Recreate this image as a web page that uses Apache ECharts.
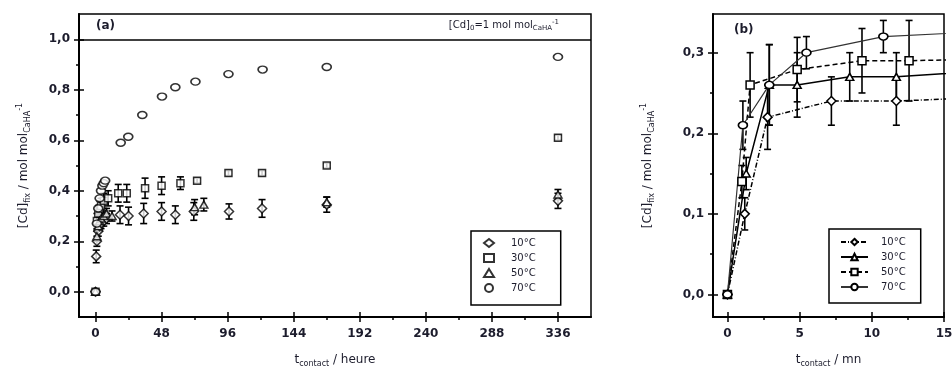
<!DOCTYPE html>
<html>
<head>
<meta charset="utf-8">
<script src="https://cdn.jsdelivr.net/npm/echarts@6/dist/echarts.min.js"></script>
<style>
html,body{margin:0;padding:0;background:#fff;}
#c{width:952px;height:367px;}
</style>
</head>
<body>
<div id="c"></div>
<script>
// ---------- Panel (a): time in hours ----------
const aT10 = [0, 0.5, 1, 2, 3, 4, 6, 8, 17.8, 24, 35, 48, 58, 71.4, 97, 121, 168, 336];
const aV10 = [0.00, 0.14, 0.20, 0.24, 0.26, 0.27, 0.28, 0.29, 0.305, 0.30, 0.31, 0.318, 0.305, 0.318, 0.318, 0.33, 0.345, 0.36];
const aE10 = [0, 0.025, 0.02, 0.02, 0.02, 0.02, 0.02, 0.02, 0.035, 0.035, 0.04, 0.035, 0.035, 0.035, 0.03, 0.035, 0.03, 0.03];

const aT30 = [0, 1, 2, 3, 4, 6, 9.2, 16.5, 22.7, 36, 48, 61.7, 73.8, 96.6, 121, 168, 336];
const aV30 = [0.00, 0.28, 0.31, 0.33, 0.34, 0.36, 0.37, 0.39, 0.39, 0.41, 0.42, 0.43, 0.44, 0.47, 0.47, 0.50, 0.61];
const aE30 = [0, 0.03, 0.03, 0.03, 0.03, 0.03, 0.03, 0.035, 0.035, 0.04, 0.035, 0.025, 0.01, 0.01, 0.01, 0.01, 0.01];

const aT50 = [0, 1, 2, 3, 4, 6, 8, 12, 72, 78.7, 168, 336];
const aV50 = [0.00, 0.22, 0.26, 0.28, 0.29, 0.30, 0.31, 0.30, 0.335, 0.345, 0.355, 0.385];
const aE50 = [0, 0.02, 0.02, 0.02, 0.02, 0.02, 0.02, 0.02, 0.03, 0.025, 0.02, 0.02];

const aT70 = [0, 1, 2, 3, 4, 5, 6, 7, 18.3, 23.8, 34, 48.3, 58, 72.6, 96.6, 121.4, 168, 336];
const aV70 = [0.00, 0.27, 0.33, 0.37, 0.40, 0.42, 0.43, 0.44, 0.59, 0.614, 0.70, 0.773, 0.81, 0.832, 0.862, 0.88, 0.89, 0.93];

const aXMajor = [0, 48, 96, 144, 192, 240, 288, 336];
const aXMinor = [24, 72, 120, 168, 216, 264, 312];
const aYMajor = [0, 0.2, 0.4, 0.6, 0.8, 1.0];
const aYMinor = [0.1, 0.3, 0.5, 0.7, 0.9];
const aLimit = 1.0;

// ---------- Panel (b): time in minutes ----------
const bT10 = [0, 1.2, 2.78, 7.2, 11.7, 20];
const bV10 = [0.00, 0.10, 0.22, 0.24, 0.24, 0.246];
const bE10 = [0, 0.02, 0.04, 0.03, 0.03, 0];

const bT30 = [0, 1.3, 2.9, 4.83, 8.47, 11.7, 20];
const bV30 = [0.00, 0.15, 0.26, 0.26, 0.27, 0.27, 0.28];
const bE30 = [0, 0.02, 0.05, 0.04, 0.03, 0.03, 0];

const bT50 = [0, 1.0, 1.57, 4.83, 9.32, 12.58, 20];
const bV50 = [0.00, 0.14, 0.26, 0.279, 0.29, 0.29, 0.293];
const bE50 = [0, 0.02, 0.04, 0.04, 0.04, 0.05, 0];

const bT70 = [0, 1.07, 2.9, 5.47, 10.8, 20];
const bV70 = [0.00, 0.21, 0.26, 0.30, 0.32, 0.328];
const bE70 = [0, 0.03, 0.05, 0.02, 0.02, 0];

const bXMajor = [0, 5, 10, 15];
const bXMinor = [2.5, 7.5, 12.5];
const bYMajor = [0, 0.1, 0.2, 0.3];
const bYMinor = [0.05, 0.15, 0.25];

const legendNames = {a10: '10°C', a30: '30°C', a50: '50°C', a70: '70°C',
                     b10: '10°C', b30: '30°C', b50: '50°C', b70: '70°C'};

// ---------- build ----------
const TXT = '#1c1c2c';
const FONT = 'DejaVu Sans';
const zip2 = (t, v) => t.map((x, i) => [x, v[i]]);
const zip3 = (t, v, e) => t.map((x, i) => [x, v[i], e[i]]);
const fmtY = v => v.toFixed(1).replace('.', ',');
const fmtX = v => String(v);

const richName = {
  n: {fontFamily: FONT, fontSize: 12, color: TXT, lineHeight: 16, verticalAlign: 'middle'},
  s: {fontFamily: FONT, fontSize: 8, color: TXT, lineHeight: 8, verticalAlign: 'bottom'},
  p: {fontFamily: FONT, fontSize: 8, color: TXT, lineHeight: 8, verticalAlign: 'top'}
};

function gridRect(l, t, r, b, show) {
  return {left: l, top: t, right: r, bottom: b, show: show, borderColor: '#000', borderWidth: 1.5,
          backgroundColor: 'transparent', containLabel: false, outerBoundsMode: 'none'};
}
const gA = [79, 14, 361, 50];
const gB = [713, 14, 8, 50];
const grids = [
  gridRect(...gA, true), gridRect(...gA, false), gridRect(...gA, false),
  gridRect(...gB, true), gridRect(...gB, false), gridRect(...gB, false)
];

function axesSet(gi, min, max, major, minor, fmt, labelMargin, nameCfg) {
  const base = {type: 'value', min: min, max: max, splitLine: {show: false}, silent: true};
  const tickStyle = {color: '#000', width: 1.5};
  return [
    Object.assign({}, base, {
      gridIndex: gi,
      axisLine: {show: true, onZero: false, lineStyle: {color: '#000', width: 2}},
      axisTick: {show: true, customValues: major, length: 5, lineStyle: tickStyle},
      axisLabel: {show: true, customValues: major, formatter: fmt, margin: labelMargin,
                  color: TXT, fontFamily: FONT, fontSize: 12, fontWeight: 'bold'}
    }, nameCfg),
    Object.assign({}, base, {
      gridIndex: gi + 1,
      axisLine: {show: false, onZero: false},
      axisTick: {show: true, inside: true, customValues: major, length: 5, lineStyle: tickStyle},
      axisLabel: {show: false}
    }),
    Object.assign({}, base, {
      gridIndex: gi + 2,
      axisLine: {show: false, onZero: false},
      axisTick: {show: true, customValues: minor, length: 3, lineStyle: tickStyle},
      axisLabel: {show: false}
    })
  ];
}

const yNameA = '{n|[Cd]}{s|fix}{n| / mol mol}{s|CaHA}{p|-1}';
const xAxes = [].concat(
  axesSet(0, -12, 360, aXMajor, aXMinor, fmtX, 11, {
    name: '{n|t}{s|contact}{n| / heure}', nameLocation: 'middle', nameGap: 35,
    nameTextStyle: {rich: richName}
  }),
  axesSet(3, -1, 15, bXMajor, bXMinor, fmtX, 11, {
    name: '{n|t}{s|contact}{n| / mn}', nameLocation: 'middle', nameGap: 35,
    nameTextStyle: {rich: richName}
  })
);
const yAxes = [].concat(
  axesSet(0, -0.1, 1.1, aYMajor, aYMinor, fmtY, 9, {
    name: yNameA, nameLocation: 'middle', nameGap: 47, nameRotate: 90,
    nameTextStyle: {rich: richName}
  }),
  axesSet(3, -0.028, 0.348, bYMajor, bYMinor, fmtY, 9, {
    name: yNameA, nameLocation: 'middle', nameGap: 57, nameRotate: 90,
    nameTextStyle: {rich: richName}
  })
);

function errRender(params, api) {
  const x = api.value(0), y = api.value(1), e = api.value(2);
  if (!(e > 0)) return null;
  const top = api.coord([x, y + e]);
  const bot = api.coord([x, y - e]);
  const w = 3.5;
  const st = {stroke: '#000', lineWidth: 1.6};
  return {type: 'group', children: [
    {type: 'line', shape: {x1: top[0], y1: top[1], x2: bot[0], y2: bot[1]}, style: st},
    {type: 'line', shape: {x1: top[0] - w, y1: top[1], x2: top[0] + w, y2: top[1]}, style: st},
    {type: 'line', shape: {x1: bot[0] - w, y1: bot[1], x2: bot[0] + w, y2: bot[1]}, style: st}
  ]};
}
function errSeries(xi, yi, data) {
  return {type: 'custom', xAxisIndex: xi, yAxisIndex: yi, renderItem: errRender, clip: true,
          data: data, encode: {x: 0, y: 1}, z: 2, silent: true};
}
const ptStyle = {color: '#fff', borderColor: '#000', borderWidth: 1.5};
function scat(name, data, symbol, size) {
  return {type: 'scatter', name: name, xAxisIndex: 0, yAxisIndex: 0, data: data,
          symbol: symbol, symbolSize: size, itemStyle: ptStyle, z: 4, silent: true};
}
function lineS(name, data, symbol, size, dash, width, color) {
  return {type: 'line', name: name, xAxisIndex: 3, yAxisIndex: 3, data: data, clip: true,
          symbol: symbol, symbolSize: size, showAllSymbol: true,
          itemStyle: ptStyle,
          lineStyle: {color: color, width: width, type: dash}, z: 4, silent: true, animation: false};
}

const series = [
  errSeries(0, 0, zip3(aT10, aV10, aE10)),
  errSeries(0, 0, zip3(aT30, aV30, aE30)),
  errSeries(0, 0, zip3(aT50, aV50, aE50)),
  scat('a10', zip2(aT10, aV10), 'diamond', [9, 9]),
  scat('a30', zip2(aT30, aV30), 'rect', [7, 7]),
  scat('a50', zip2(aT50, aV50), 'triangle', [8, 7]),
  Object.assign(scat('a70', zip2(aT70, aV70), 'circle', [9, 7]), {
    markLine: {silent: true, symbol: 'none', label: {show: false}, animation: false,
               lineStyle: {color: '#000', width: 1.5, type: 'solid'},
               data: [{yAxis: aLimit}]}
  }),
  errSeries(3, 3, zip3(bT10, bV10, bE10)),
  errSeries(3, 3, zip3(bT30, bV30, bE30)),
  errSeries(3, 3, zip3(bT50, bV50, bE50)),
  errSeries(3, 3, zip3(bT70, bV70, bE70)),
  lineS('b10', zip2(bT10, bV10), 'diamond', [9, 9], [5, 2, 1, 2], 1.5, '#000'),
  lineS('b30', zip2(bT30, bV30), 'triangle', [8, 7], 'solid', 1.5, '#000'),
  lineS('b50', zip2(bT50, bV50), 'rect', [8, 8], [5, 3], 1.5, '#000'),
  lineS('b70', zip2(bT70, bV70), 'circle', [9, 7], 'solid', 1.2, '#333')
];

const legendBase = {
  orient: 'vertical', borderColor: '#000', borderWidth: 1.5, backgroundColor: '#fff',
  itemHeight: 8, itemGap: 5, selectedMode: false,
  formatter: n => legendNames[n]
};
const legends = [
  Object.assign({}, legendBase, {
    left: 471, top: 231, padding: [7, 25, 12, 12], itemWidth: 10,
    data: ['a10', 'a30', 'a50', 'a70'],
    textStyle: {fontFamily: FONT, fontSize: 10, color: TXT, lineHeight: 8, padding: [0, 0, 0, 12]}
  }),
  Object.assign({}, legendBase, {
    left: 829, top: 229, padding: [8, 15, 11, 11], itemWidth: 27,
    data: ['b10', 'b30', 'b50', 'b70'],
    textStyle: {fontFamily: FONT, fontSize: 10, color: TXT, lineHeight: 8, padding: [0, 0, 0, 8]}
  })
];

const annRich = {
  n: {fontFamily: FONT, fontSize: 10, fill: TXT, lineHeight: 13, verticalAlign: 'middle'},
  s: {fontFamily: FONT, fontSize: 7, fill: TXT, lineHeight: 7, verticalAlign: 'bottom'},
  p: {fontFamily: FONT, fontSize: 7, fill: TXT, lineHeight: 7, verticalAlign: 'top'}
};

const chart = echarts.init(document.getElementById('c'), null, {renderer: 'canvas'});
chart.setOption({
  animation: false,
  backgroundColor: '#fff',
  grid: grids,
  xAxis: xAxes,
  yAxis: yAxes,
  legend: legends,
  series: series,
  graphic: [
    {type: 'text', left: 96, top: 20, silent: true,
     style: {text: '(a)', fontFamily: FONT, fontSize: 12, fontWeight: 'bold', fill: TXT}},
    {type: 'text', left: 734, top: 24, silent: true,
     style: {text: '(b)', fontFamily: FONT, fontSize: 12, fontWeight: 'bold', fill: TXT}},
    {type: 'text', right: 393, top: 19, silent: true,
     style: {text: '{n|[Cd]}{s|0}{n|=1 mol mol}{s|CaHA}{p|-1}', rich: annRich}}
  ]
});
</script>
</body>
</html>
